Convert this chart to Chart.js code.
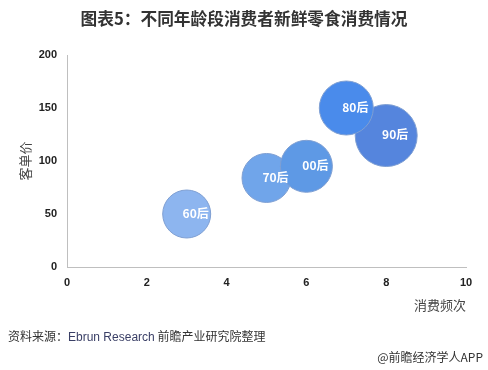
<!DOCTYPE html>
<html><head><meta charset="utf-8">
<script src="https://cdn.jsdelivr.net/npm/chart.js@4/dist/chart.umd.min.js"></script>
<style>
html,body{margin:0;padding:0;background:#fff;}
#wrap{position:relative;width:488px;height:370px;overflow:hidden;font-family:"Noto Sans CJK SC","Noto Sans",sans-serif;}
#c{position:absolute;left:0;top:0;}
.t{position:absolute;white-space:nowrap;color:#333;}
#title{left:0;width:488px;top:6px;text-align:center;font-size:16.7px;font-weight:bold;line-height:24px;color:#333;}
#src{left:8px;top:327px;font-size:12px;line-height:18px;}
#src .en{font-family:"Liberation Sans",Arial,sans-serif;color:#3a3f66;}
#app{right:5px;top:348px;font-size:12px;line-height:18px;}
</style></head>
<body><div id="wrap">
<canvas id="c" width="488" height="370"></canvas>
<div class="t" id="title">图表5：不同年龄段消费者新鲜零食消费情况</div>
<div class="t" id="src">资料来源：<span class="en">Ebrun Research</span> 前瞻产业研究院整理</div>
<div class="t" id="app">@前瞻经济学人APP</div>
</div>
<script>
const categories = ['60后','70后','00后','90后','80后'];
const frequency  = [3, 5, 6, 8, 7];
const unitPrice  = [50, 84, 95, 124, 150];
const bubbleSize = [24, 24.5, 26, 31, 27];
const xTicks = [0, 2, 4, 6, 8, 10];
const yTicks = [0, 50, 100, 150, 200];
const colors = ['#8db5ef', '#70a5ea', '#5e99e5', '#5585dd', '#4a8beb'];

const points = categories.map((c, i) => ({x: frequency[i], y: unitPrice[i], r: bubbleSize[i], label: c}));

const labelPlugin = {
  id: 'bubbleLabels',
  afterDatasetsDraw(chart) {
    const ctx = chart.ctx;
    const meta = chart.getDatasetMeta(0);
    ctx.save();
    ctx.fillStyle = '#ffffff';
    ctx.font = 'bold 12px "Noto Sans CJK SC", sans-serif';
    ctx.textAlign = 'center';
    ctx.textBaseline = 'middle';
    meta.data.forEach((el, i) => {
      ctx.fillText(categories[i], el.x + 9, el.y - 1);
    });
    ctx.restore();
  }
};

const tickFont = {family: '"Liberation Sans", Arial, sans-serif', size: 11, weight: 'bold'};
new Chart(document.getElementById('c'), {
  type: 'bubble',
  data: {datasets: [{
    data: points,
    backgroundColor: colors,
    borderColor: '#7f9fd2',
    borderWidth: 1,
    hoverBorderWidth: 1
  }]},
  options: {
    responsive: false,
    animation: false,
    events: [],
    layout: {autoPadding: false, padding: {left: 0, right: 22, top: 55, bottom: 53}},
    plugins: {legend: {display: false}, tooltip: {enabled: false}},
    scales: {
      x: {
        type: 'linear', min: 0, max: 10,
        afterBuildTicks(s) { s.ticks = xTicks.map(v => ({value: v})); },
        afterFit(s) { s.height = 50; },
        grid: {display: false, drawTicks: false},
        border: {display: true, color: '#bfbfbf', width: 1},
        ticks: {color: '#222', font: tickFont, padding: 9, maxRotation: 0},
        title: {display: true, text: '消费频次', align: 'end', color: '#444',
                font: {family: '"Noto Sans CJK SC", sans-serif', size: 13}, padding: {top: 0, bottom: 4}}
      },
      y: {
        type: 'linear', min: 0, max: 200,
        afterBuildTicks(s) { s.ticks = yTicks.map(v => ({value: v})); },
        afterFit(s) { s.width = 67; },
        grid: {display: false, drawTicks: false},
        border: {display: true, color: '#bfbfbf', width: 1},
        ticks: {color: '#222', font: tickFont, padding: 10},
        title: {display: true, text: '客单价', color: '#444',
                font: {family: '"Noto Sans CJK SC", sans-serif', size: 13}, padding: {top: 17, bottom: 0}}
      }
    }
  },
  plugins: [labelPlugin]
});
</script>
</body></html>
